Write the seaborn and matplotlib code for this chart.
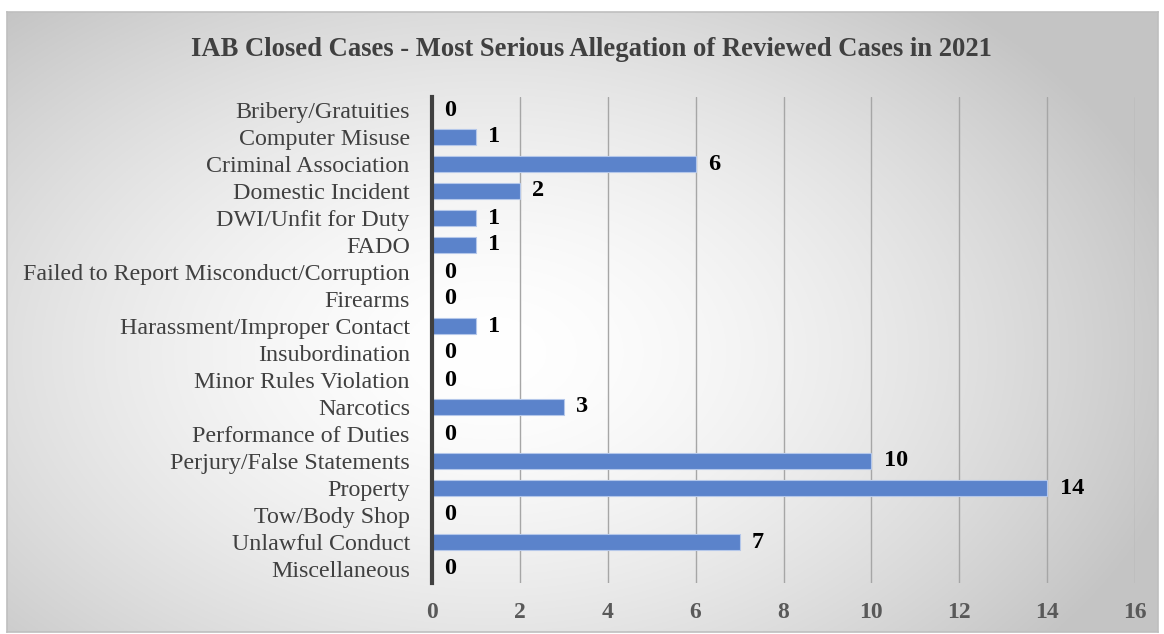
import numpy as np
import pandas as pd
import matplotlib
matplotlib.use("Agg")
import matplotlib.pyplot as plt
import seaborn as sns

categories = ["Bribery/Gratuities", "Computer Misuse", "Criminal Association",
              "Domestic Incident", "DWI/Unfit for Duty", "FADO",
              "Failed to Report Misconduct/Corruption", "Firearms",
              "Harassment/Improper Contact", "Insubordination",
              "Minor Rules Violation", "Narcotics", "Performance of Duties",
              "Perjury/False Statements", "Property", "Tow/Body Shop",
              "Unlawful Conduct", "Miscellaneous"]
values = [0, 1, 6, 2, 1, 1, 0, 0, 1, 0, 0, 3, 0, 10, 14, 0, 7, 0]
x_ticks = [0, 2, 4, 6, 8, 10, 12, 14, 16]
title = "IAB Closed Cases - Most Serious Allegation of Reviewed Cases in 2021"

df = pd.DataFrame({"category": categories, "value": values})

sns.set_theme(style="white")
plt.rcParams["font.family"] = ["Liberation Serif", "DejaVu Serif"]

W, H = 1164, 634
fig = plt.figure(figsize=(W / 100, H / 100), dpi=100)
fig.patch.set_facecolor("white")

# background gradient panel
bx0, by0, bx1, by1 = 7, 12, 1158, 632
bg = fig.add_axes([bx0 / W, (H - by1) / H, (bx1 - bx0) / W, (by1 - by0) / H])
ny, nx = 300, 560
yy, xx = np.mgrid[0:1:ny * 1j, 0:1:nx * 1j]
cx, cy = 0.42, 0.55
r = np.sqrt(((xx - cx) / 0.62) ** 2 + ((yy - cy) / 0.75) ** 2)
r = np.clip(r, 0, 1)
g = 1.0 - 0.23 * r ** 1.6
img = np.dstack([g, g, g])
bg.imshow(img, aspect="auto", extent=[0, 1, 0, 1], origin="upper")
bg.set_xlim(0, 1); bg.set_ylim(0, 1)
bg.set_xticks([]); bg.set_yticks([])
for s in bg.spines.values():
    s.set_color("#BFBFBF")
    s.set_linewidth(1.2)

# main axes
px0, px1 = 432, 1135
py0, py1 = 96.5, 582.5
ax = fig.add_axes([px0 / W, (H - py1) / H, (px1 - px0) / W, (py1 - py0) / H])
ax.patch.set_alpha(0)

sns.barplot(data=df, x="value", y="category", orient="h", ax=ax,
            color="#5B83CB", saturation=1, width=0.6,
            edgecolor="#B4C7EA", linewidth=0.8)

ax.set_xlim(0, 16)
ax.set_ylim(len(categories) - 0.5, -0.5)
ax.set_xticks(x_ticks)
ax.set_xticklabels([str(t) for t in x_ticks], fontsize=17, fontweight="bold",
                   color="#595959")
ax.tick_params(axis="x", length=0, pad=14)
ax.tick_params(axis="y", length=0, pad=16)
for lab in ax.get_yticklabels():
    lab.set_fontsize(17.3)
    lab.set_color("#404040")
ax.set_xlabel("")
ax.set_ylabel("")

for t in x_ticks[1:]:
    ax.axvline(t, color="#A6A6A6", linewidth=1.0, zorder=0)

for name, s in ax.spines.items():
    s.set_visible(False)
ax.spines["left"].set_visible(True)
ax.spines["left"].set_color("#404040")
ax.spines["left"].set_linewidth(3)

for i, v in enumerate(values):
    ax.annotate(str(v), xy=(v, i), xytext=(9, 0), textcoords="offset points",
                ha="left", va="center", fontsize=17.5, fontweight="bold",
                color="black")

fig.text(591 / W, 1 - 50 / H, title, ha="center", va="center",
         fontsize=19.2, fontweight="bold", color="#404040")

fig.savefig("out.png", dpi=100)
